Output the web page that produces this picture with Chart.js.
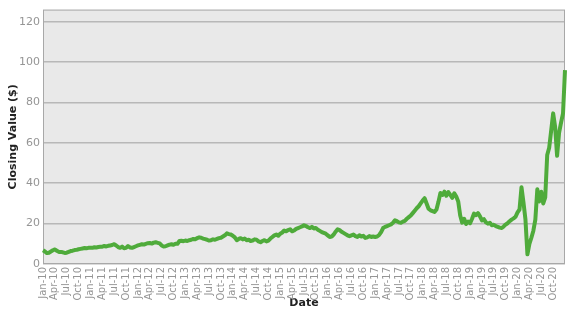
<!DOCTYPE html>
<html>
<head>
<meta charset="utf-8">
<script src="https://cdn.jsdelivr.net/npm/chart.js@4/dist/chart.umd.min.js"></script>
<style>
  html, body { margin: 0; padding: 0; background: #ffffff; }
  #wrap { width: 580px; height: 312px; position: relative; }
</style>
</head>
<body>
<div id="wrap"><canvas id="c" width="580" height="312"></canvas></div>
<script>
// Category labels
const months = ['Jan','Feb','Mar','Apr','May','Jun','Jul','Aug','Sep','Oct','Nov','Dec'];
const years = ['10','11','12','13','14','15','16','17','18','19','20'];
const lastLabel = 'Jan-21';

// Closing values, two readings per month (start / mid-month)
const v2010 = [6.8,6.2,5.4,5.6,6.2,6.8,7.2,6.6,6.0,6.0,5.8,5.5,5.6,6.0,6.4,6.6,6.9,7.0,7.3,7.5,7.7,7.9,7.8,8.0];
const v2011 = [8.1,8.0,8.3,8.2,8.4,8.5,8.6,8.9,8.7,9.0,9.2,9.4,9.8,9.2,8.4,8.0,8.6,7.8,8.0,8.9,8.2,8.0,8.4,8.8];
const v2012 = [9.2,9.5,9.8,9.6,10.0,10.3,10.4,10.1,10.6,10.8,10.5,10.2,9.2,8.7,8.8,9.2,9.6,9.8,9.5,10.0,10.0,11.4,11.5,11.3];
const v2013 = [11.6,11.4,11.8,12.0,12.4,12.3,12.8,13.2,13.0,12.6,12.3,12.0,11.6,11.8,12.2,12.0,12.4,12.8,13.0,13.6,14.2,15.2,14.8,14.6];
const v2014 = [14.0,13.2,11.8,12.4,12.8,12.2,12.6,11.8,12.0,11.4,11.6,12.2,12.0,11.2,10.8,11.4,11.8,11.2,11.6,12.6,13.4,14.2,14.6,14.0];
const v2015 = [15.0,15.6,16.6,16.2,16.8,17.2,16.2,16.6,17.4,17.8,18.2,18.6,19.2,18.8,18.2,17.8,18.4,17.6,17.8,17.0,16.4,15.8,15.4,15.0];
const v2016 = [14.2,13.4,13.6,14.6,16.0,17.2,16.8,16.0,15.4,14.8,14.2,13.8,14.2,14.6,13.8,13.4,14.2,13.6,14.0,12.9,13.2,13.8,13.4,13.6];
const v2017 = [13.4,13.6,14.4,15.8,17.8,18.4,18.8,19.2,19.6,20.4,21.6,21.2,20.6,20.4,21.0,21.4,22.4,23.2,24.0,25.2,26.4,27.6,28.6,30.0];
const v2018 = [31.4,32.6,30.0,27.4,26.6,26.2,25.8,27.0,30.8,35.2,34.2,35.8,33.8,35.6,34.2,32.8,35.0,33.4,31.0,24.0,20.5,22.4,19.8,21.0];
const v2019 = [20.2,22.4,25.0,24.2,25.2,23.6,21.6,22.2,20.6,20.0,20.4,19.2,19.4,18.8,18.4,18.0,17.8,18.6,19.6,20.2,21.2,22.0,22.6,23.4];
const v2020 = [25.6,27.0,38.0,30.5,22.0,4.8,10.0,13.0,16.5,22.0,37.0,31.0,35.8,30.0,33.0,54.0,57.6,66.0,74.6,68.0,53.6,65.0,70.0,74.6];
const v2021 = [96.0];

const yTicks = [0,20,40,60,80,100,120];

const labels = [];
years.forEach(y => months.forEach(m => { labels.push(m + '-' + y); labels.push(m + '-' + y + ' mid'); }));
labels.push(lastLabel);
const values = [].concat(v2010,v2011,v2012,v2013,v2014,v2015,v2016,v2017,v2018,v2019,v2020,v2021);

const bgPlugin = {
  id: 'bg',
  beforeDraw(chart) {
    const {ctx, chartArea: a} = chart;
    ctx.save();
    ctx.fillStyle = '#e9e9e9';
    ctx.fillRect(a.left, a.top, a.right - a.left, a.bottom - a.top);
    ctx.restore();
  },
  beforeDatasetsDraw(chart) {
    const {ctx, chartArea: a} = chart;
    ctx.save();
    ctx.strokeStyle = '#a8a8a8';
    ctx.lineWidth = 1;
    ctx.strokeRect(a.left + 0.5, a.top + 0.5, a.right - a.left - 1, a.bottom - a.top - 1);
    ctx.restore();
  }
};

new Chart(document.getElementById('c'), {
  type: 'line',
  data: {
    labels: labels,
    datasets: [{
      data: values,
      borderColor: '#4fab3b',
      borderWidth: 4,
      pointRadius: 0,
      tension: 0,
      fill: false,
      borderJoinStyle: 'round'
    }]
  },
  options: {
    responsive: false,
    animation: false,
    layout: { padding: { top: 4, right: 5, left: 0, bottom: 0 } },
    plugins: { legend: { display: false }, tooltip: { enabled: false } },
    scales: {
      x: {
        type: 'category',
        offset: false,
        grid: { display: false, drawTicks: false },
        border: { display: false },
        ticks: {
          autoSkip: false,
          minRotation: 90,
          maxRotation: 90,
          padding: 3,
          color: '#959595',
          font: { family: 'DejaVu Sans', size: 10 },
          callback: function(val, i) {
            return (i % 6 === 0 && i < labels.length - 1) ? labels[i] : '';
          }
        },
        title: {
          display: true,
          text: 'Date',
          color: '#222',
          font: { family: 'DejaVu Sans', size: 11, weight: 'bold' },
          padding: { top: 2, bottom: 2 }
        },
        afterFit(s) { s.height = 48; }
      },
      y: {
        min: 0,
        max: 126,
        afterBuildTicks(s) { s.ticks = yTicks.map(v => ({ value: v })); },
        grid: { color: '#b8b8b8', lineWidth: 1.5, drawTicks: false },
        border: { display: false },
        ticks: {
          padding: 3,
          color: '#959595',
          font: { family: 'DejaVu Sans', size: 11 }
        },
        title: {
          display: true,
          text: 'Closing Value ($)',
          color: '#222',
          font: { family: 'DejaVu Sans', size: 11, weight: 'bold' },
          padding: { top: 7, bottom: 4 }
        },
        afterFit(s) { s.width = 43; }
      }
    }
  },
  plugins: [bgPlugin]
});
</script>
</body>
</html>
